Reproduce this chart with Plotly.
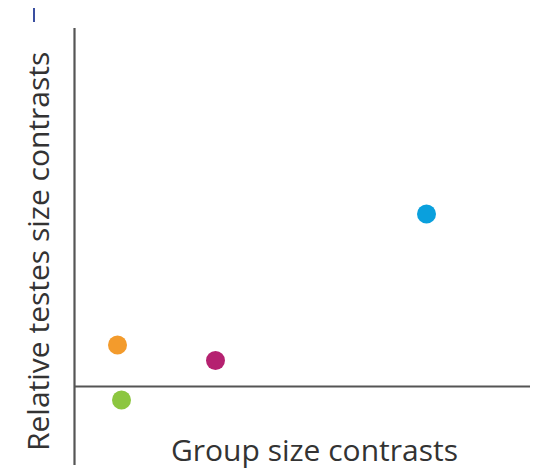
import plotly.graph_objects as go

# Data (contrast values, arbitrary units; origin at the axes crossing)
group_size_contrasts = [0.43, 0.47, 1.41, 3.52]
testes_size_contrasts = [0.415, -0.135, 0.26, 1.725]
point_colors = ["#F39B2C", "#8CC63F", "#B52170", "#0AA0DD"]

x_title = "Group size contrasts"
y_title = "Relative testes size contrasts"

W, H = 530, 464  # page body has an 8px margin

fig = go.Figure()
fig.add_trace(go.Scatter(
    x=group_size_contrasts, y=testes_size_contrasts, mode="markers",
    marker=dict(size=19, color=point_colors, line=dict(width=0)),
    hoverinfo="skip", showlegend=False,
))

axis_col = "#555555"
fig.add_shape(type="line", x0=0, x1=0, y0=-0.785, y1=3.585,
              line=dict(color=axis_col, width=2.2))
fig.add_shape(type="line", x0=0, x1=4.625, y0=0, y1=0,
              line=dict(color=axis_col, width=2.2))
# small stray mark at top-left
fig.add_shape(type="line", xref="paper", yref="paper",
              x0=26/W, x1=26/W, y0=1.0, y1=1-14/H,
              line=dict(color="#3a4fa0", width=2))

fig.add_annotation(text=x_title, xref="paper", yref="paper",
                   x=306/W, y=1-441/H, showarrow=False,
                   xanchor="center", yanchor="middle",
                   font=dict(family="Open Sans", size=30, color="#333333"))
fig.add_annotation(text=y_title, xref="paper", yref="paper",
                   x=29/W, y=1-244/H, showarrow=False, textangle=-90,
                   xanchor="center", yanchor="middle",
                   font=dict(family="Open Sans", size=30, color="#333333"))

fig.update_layout(
    width=W, height=H,
    margin=dict(l=0, r=0, t=0, b=0),
    paper_bgcolor="white", plot_bgcolor="white",
    xaxis=dict(range=[-0.665, 4.635], visible=False, fixedrange=True),
    yaxis=dict(range=[-0.855, 3.785], visible=False, fixedrange=True),
)
fig.write_html("out.html")
